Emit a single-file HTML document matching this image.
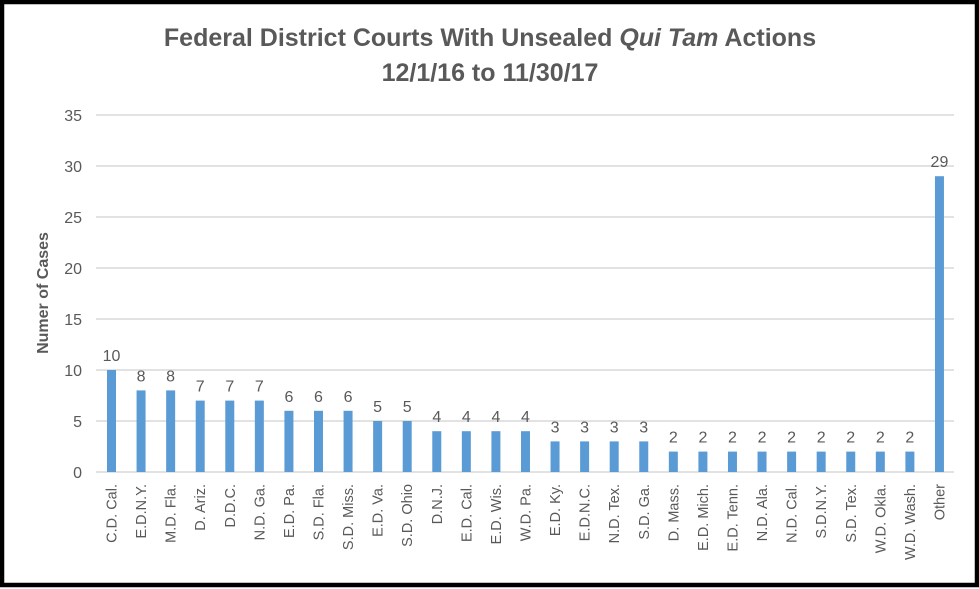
<!DOCTYPE html>
<html><head><meta charset="utf-8"><style>
html,body{margin:0;padding:0;background:#fff}
svg{display:block}
text{font-family:"Liberation Sans",sans-serif;fill:#595959}
</style></head><body>
<svg width="979" height="589" viewBox="0 0 979 589" xmlns="http://www.w3.org/2000/svg">
<rect x="2" y="2" width="975" height="583" fill="#fff" stroke="#000" stroke-width="4.5"/>
<text x="490" y="46" text-anchor="middle" font-size="25" font-weight="bold">Federal District Courts With Unsealed <tspan font-style="italic">Qui Tam</tspan> Actions</text>
<text x="490" y="81" text-anchor="middle" font-size="25" font-weight="bold">12/1/16 to 11/30/17</text>
<g stroke="#d9d9d9" stroke-width="1.5">
<line x1="96" x2="954" y1="115" y2="115"/>
<line x1="96" x2="954" y1="166" y2="166"/>
<line x1="96" x2="954" y1="217" y2="217"/>
<line x1="96" x2="954" y1="268" y2="268"/>
<line x1="96" x2="954" y1="319" y2="319"/>
<line x1="96" x2="954" y1="370" y2="370"/>
<line x1="96" x2="954" y1="421" y2="421"/>
<line x1="96" x2="954" y1="472" y2="472"/>
</g>
<g font-size="16" text-anchor="end">
<text x="82" y="121">35</text><text x="82" y="172">30</text><text x="82" y="223">25</text><text x="82" y="274">20</text>
<text x="82" y="325">15</text><text x="82" y="376">10</text><text x="82" y="427">5</text><text x="82" y="478">0</text>
</g>
<text transform="translate(48,293) rotate(-90)" text-anchor="middle" font-size="16" font-weight="bold">Numer of Cases</text>
<g id="bars"></g>
</svg>
<script>
var d=[["C.D. Cal.",10],["E.D.N.Y.",8],["M.D. Fla.",8],["D. Ariz.",7],["D.D.C.",7],["N.D. Ga.",7],["E.D. Pa.",6],["S.D. Fla.",6],["S.D. Miss.",6],["E.D. Va.",5],["S.D. Ohio",5],["D.N.J.",4],["E.D. Cal.",4],["E.D. Wis.",4],["W.D. Pa.",4],["E.D. Ky.",3],["E.D.N.C.",3],["N.D. Tex.",3],["S.D. Ga.",3],["D. Mass.",2],["E.D. Mich.",2],["E.D. Tenn.",2],["N.D. Ala.",2],["N.D. Cal.",2],["S.D.N.Y.",2],["S.D. Tex.",2],["W.D. Okla.",2],["W.D. Wash.",2],["Other",29]];
var g=document.getElementById('bars'),h='';
d.forEach(function(e,i){var c=111.5+i*29.57,y=472-e[1]*10.2;
h+='<rect x="'+(c-4.5)+'" y="'+y+'" width="9" height="'+(472-y)+'" fill="#5b9bd5"/>';
h+='<text x="'+c+'" y="'+(y-9)+'" text-anchor="middle" font-size="16">'+e[1]+'</text>';
h+='<text transform="translate('+(c+5)+',484) rotate(-90)" text-anchor="end" font-size="14.5">'+e[0]+'</text>';});
g.innerHTML=h;
</script>
</body></html>
